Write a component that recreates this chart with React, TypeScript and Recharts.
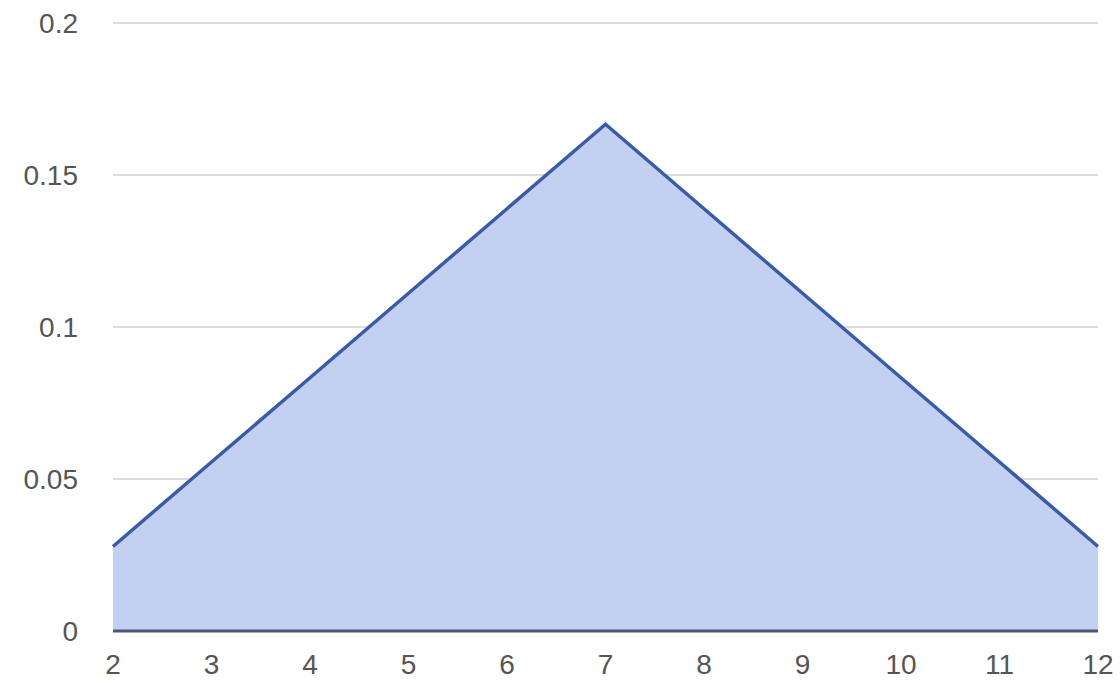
import React from "react";
import { AreaChart, Area, XAxis, YAxis, CartesianGrid } from "recharts";

// sum of two dice -> probability
const sums = [2, 3, 4, 5, 6, 7, 8, 9, 10, 11, 12];
const probs = [0.0278, 0.0556, 0.0833, 0.1111, 0.1389, 0.1667, 0.1389, 0.1111, 0.0833, 0.0556, 0.0278];
const yTicks = [0, 0.05, 0.1, 0.15, 0.2];

const data = sums.map((s, i) => ({ sum: s, p: probs[i] }));

const tickStyle = { fill: "#555", fontSize: 28, fontFamily: "Arial, 'Liberation Sans', sans-serif" };

export default function App() {
  return (
    <div style={{ position: "absolute", left: 0, top: 0, background: "#fff" }}>
      <AreaChart
        width={1120}
        height={683}
        data={data}
        margin={{ top: 23, right: 22, left: 0, bottom: 0 }}
      >
        <CartesianGrid vertical={false} stroke="#dcdcdc" strokeWidth={2} />
        <XAxis
          dataKey="sum"
          type="number"
          domain={[2, 12]}
          ticks={sums}
          height={52}
          tickLine={false}
          tickSize={0}
          tickMargin={23}
          axisLine={{ stroke: "#4e5670", strokeWidth: 3 }}
          tick={tickStyle}
        />
        <YAxis
          domain={[0, 0.2]}
          ticks={yTicks}
          width={113}
          axisLine={false}
          tickLine={false}
          tickSize={0}
          tickMargin={35}
          tick={tickStyle}
        />
        <Area
          type="linear"
          dataKey="p"
          stroke="#3b5ba5"
          strokeWidth={3.5}
          fill="#c2d0f2"
          fillOpacity={1}
          dot={false}
          activeDot={false}
          isAnimationActive={false}
        />
      </AreaChart>
    </div>
  );
}
